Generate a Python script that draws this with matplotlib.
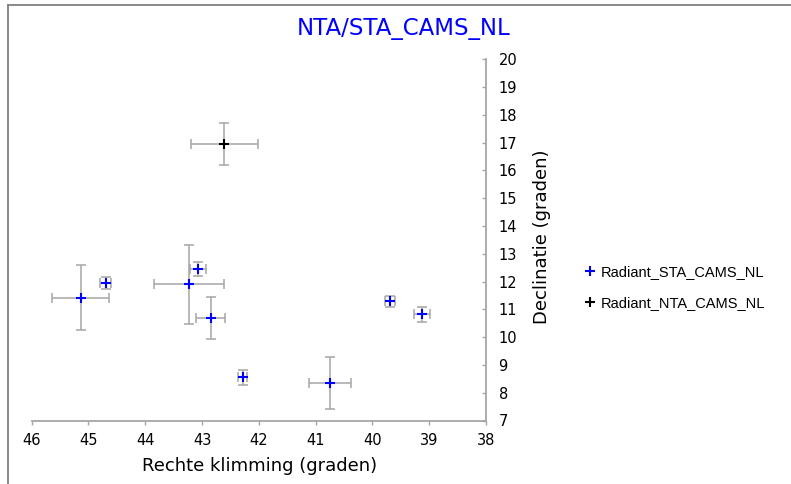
import matplotlib
matplotlib.use("Agg")
import matplotlib.pyplot as plt
from matplotlib.lines import Line2D

# Data
sta_ra = [45.14, 44.70, 43.23, 43.07, 42.85, 42.28, 40.75, 39.69, 39.12]
sta_dec = [11.42, 11.95, 11.90, 12.44, 10.69, 8.55, 8.36, 11.29, 10.82]
sta_ra_err = [0.50, 0.10, 0.61, 0.14, 0.25, 0.08, 0.37, 0.08, 0.14]
sta_dec_err = [1.18, 0.20, 1.43, 0.25, 0.77, 0.26, 0.94, 0.19, 0.28]

nta_ra = [42.61]
nta_dec = [16.95]
nta_ra_err = [0.59]
nta_dec_err = [0.76]

x_ticks = [46, 45, 44, 43, 42, 41, 40, 39, 38]
y_ticks = list(range(7, 21))

title = "NTA/STA_CAMS_NL"
xlabel = "Rechte klimming (graden)"
ylabel = "Declinatie (graden)"
label_sta = "Radiant_STA_CAMS_NL"
label_nta = "Radiant_NTA_CAMS_NL"

W, H = 791, 484
fig = plt.figure(figsize=(W / 100, H / 100), dpi=100)
fig.patch.set_facecolor("white")

L, R, T, B = 31.7, 486.0, 59.3, 420.5
ax = fig.add_axes([L / W, 1 - B / H, (R - L) / W, (B - T) / H])
ax.set_xlim(46, 38)
ax.set_ylim(7, 20)

errcol = "#a6a6a6"
ekw = dict(fmt="none", ecolor=errcol, elinewidth=1.1, capsize=3.6, capthick=1.1, zorder=2)
ax.errorbar(sta_ra, sta_dec, xerr=sta_ra_err, yerr=sta_dec_err, **ekw)
ax.errorbar(nta_ra, nta_dec, xerr=nta_ra_err, yerr=nta_dec_err, **ekw)
ax.plot(sta_ra, sta_dec, linestyle="none", marker="+", color="#0000ff",
        markersize=7.5, markeredgewidth=1.5, zorder=3, label=label_sta)
ax.plot(nta_ra, nta_dec, linestyle="none", marker="+", color="black",
        markersize=7.5, markeredgewidth=1.5, zorder=3, label=label_nta)

for s in ["top", "left"]:
    ax.spines[s].set_visible(False)
for s in ["bottom", "right"]:
    ax.spines[s].set_color("#a6a6a6")
    ax.spines[s].set_linewidth(1.3)

ax.set_xticks(x_ticks)
ax.set_xticklabels([str(v) for v in x_ticks])
ax.set_yticks(y_ticks)
ax.set_yticklabels([str(v) for v in y_ticks])
ax.yaxis.tick_right()
ax.yaxis.set_label_position("right")
ax.tick_params(axis="x", direction="out", length=3, width=1, color="#a6a6a6",
               labelsize=10.5, pad=6)
ax.tick_params(axis="y", direction="in", length=3, width=1, color="#a6a6a6",
               labelsize=10.5, pad=9)

ax.set_title(title, color="#0000ff", fontsize=16.5, x=(404 - L) / (R - L), y=1.0, pad=17.5)
ax.set_xlabel(xlabel, fontsize=13)
ax.xaxis.set_label_coords((260 - L) / (R - L), -(457 - B) / (B - T))
ax.set_ylabel(ylabel, fontsize=13, rotation=90)
ax.yaxis.set_label_coords((533 - L) / (R - L), (B - 237) / (B - T))

leg = ax.legend(loc="center left", bbox_to_anchor=(577 / W, 1 - 287.5 / H),
                bbox_transform=fig.transFigure, frameon=False,
                prop={"family": "Liberation Sans", "size": 10.5},
                handlelength=0.8, handletextpad=0.3, labelspacing=1.2,
                borderpad=0)

# outer border (top and left)
fig.add_artist(Line2D([8 / W, 8 / W], [0, 1 - 5 / H], transform=fig.transFigure,
                      color="#808080", linewidth=1.3))
fig.add_artist(Line2D([8 / W, 1], [1 - 5 / H, 1 - 5 / H], transform=fig.transFigure,
                      color="#808080", linewidth=1.3))

fig.savefig("out.png", dpi=100, facecolor="white")
